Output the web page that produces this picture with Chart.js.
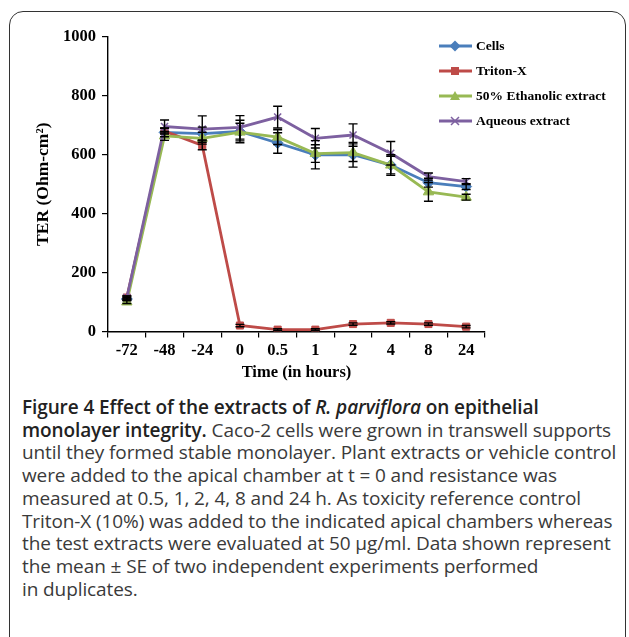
<!DOCTYPE html>
<html>
<head>
<meta charset="utf-8">
<script src="https://cdn.jsdelivr.net/npm/chart.js@4.4.0/dist/chart.umd.min.js"></script>
<style>
  body { margin: 0; background: #fff; width: 629px; height: 637px; overflow: hidden; position: relative; }
  #frame { position: absolute; left: 9px; top: 11px; width: 617px; height: 680px; border: 1.6px solid #333; border-radius: 14px; box-sizing: border-box; }
  #chart { position: absolute; left: 0; top: 0; }
  #legend { position: absolute; left: 439px; top: 33px; font: bold 13.5px "Liberation Serif", "Times New Roman", serif; color: #000; }
  #legend .item { height: 25px; display: flex; align-items: center; white-space: nowrap; }
  #legend svg { margin-right: 4px; }
  #caption { position: absolute; left: 22px; top: 396px; font: 19px "Open Sans", sans-serif; line-height: 22.7px; color: #3a3a3a; white-space: nowrap; letter-spacing: -0.1px; }
  #caption b { font-weight: 600; color: #222; }
</style>
</head>
<body>
<div id="frame"></div>
<canvas id="chart" width="629" height="391"></canvas>
<div id="legend"></div>
<div id="caption">
<b>Figure 4 Effect of the extracts of <i>R. parviflora</i> on epithelial</b><br>
<b>monolayer integrity.</b> Caco-2 cells were grown in transwell supports<br>
until they formed stable monolayer. Plant extracts or vehicle control<br>
were added to the apical chamber at t = 0 and resistance was<br>
measured at 0.5, 1, 2, 4, 8 and 24 h. As toxicity reference control<br>
Triton-X (10%) was added to the indicated apical chambers whereas<br>
the test extracts were evaluated at 50 µg/ml. Data shown represent<br>
the mean ± SE of two independent experiments performed<br>
in duplicates.
</div>
<script>
// time points (hours)
var timeLabels = ['-72', '-48', '-24', '0', '0.5', '1', '2', '4', '8', '24'];
var yTicks = [0, 200, 400, 600, 800, 1000];

// TER values
var cells     = [110, 676, 672, 679, 640, 600, 600, 565, 505, 492];
var tritonX   = [115, 680, 632, 20, 6, 6, 25, 29, 25, 16];
var ethanolic = [100, 664, 656, 677, 660, 604, 607, 565, 474, 456];
var aqueous   = [115, 696, 687, 693, 728, 656, 667, 605, 526, 509];

// standard errors
var cellsErr     = [5, 15, 22, 38, 35, 48, 42, 35, 15, 10];
var tritonErr    = [5, 10, 15, 4, 3, 3, 4, 4, 4, 4];
var ethanolicErr = [5, 15, 20, 30, 25, 30, 30, 30, 32, 10];
var aqueousErr   = [5, 22, 45, 40, 37, 33, 38, 40, 12, 10];

var seriesNames = ['Cells', 'Triton-X', '50% Ethanolic extract', 'Aqueous extract'];
var colors = ['#4a7ebb', '#be4b48', '#98b954', '#7d60a0'];
var markers = ['rectRot', 'rect', 'triangle', 'crossRot'];

var serifBold = { family: '"Liberation Serif", "Times New Roman", serif', weight: 'bold', size: 16.5 };

// draw error bars on top of the lines
var errorBars = {
  id: 'errorBars',
  afterDatasetsDraw: function (chart) {
    var ctx = chart.ctx, y = chart.scales.y;
    ctx.save();
    ctx.strokeStyle = '#000';
    ctx.lineWidth = 1.4;
    chart.data.datasets.forEach(function (ds, i) {
      var meta = chart.getDatasetMeta(i);
      meta.data.forEach(function (pt, j) {
        var e = ds.errors[j];
        if (!e) return;
        var top = y.getPixelForValue(ds.data[j] + e);
        var bot = y.getPixelForValue(ds.data[j] - e);
        ctx.beginPath();
        ctx.moveTo(pt.x, top); ctx.lineTo(pt.x, bot);
        ctx.moveTo(pt.x - 4.5, top); ctx.lineTo(pt.x + 4.5, top);
        ctx.moveTo(pt.x - 4.5, bot); ctx.lineTo(pt.x + 4.5, bot);
        ctx.stroke();
      });
    });
    ctx.restore();
  }
};

function makeSet(i, data, errs, radius) {
  return {
    label: seriesNames[i],
    data: data,
    errors: errs,
    borderColor: colors[i],
    backgroundColor: colors[i],
    pointBackgroundColor: colors[i],
    pointBorderColor: colors[i],
    pointStyle: markers[i],
    pointRadius: radius,
    pointBorderWidth: markers[i] == 'crossRot' ? 1.5 : 1,
    borderWidth: 2.8,
    tension: 0,
    order: 3 - i
  };
}

new Chart(document.getElementById('chart'), {
  type: 'line',
  data: {
    labels: timeLabels,
    datasets: [
      makeSet(0, cells, cellsErr, 5.5),
      makeSet(1, tritonX, tritonErr, 5),
      makeSet(2, ethanolic, ethanolicErr, 6),
      makeSet(3, aqueous, aqueousErr, 5)
    ]
  },
  options: {
    responsive: false,
    animation: false,
    layout: { padding: { left: 29, top: 37, right: 144, bottom: 4 } },
    plugins: { legend: { display: false }, tooltip: { enabled: false } },
    scales: {
      x: {
        offset: true,
        grid: { offset: true, drawOnChartArea: false, tickLength: 6, color: '#000', lineWidth: 1.2 },
        border: { color: '#000', width: 1.4 },
        ticks: { color: '#000', font: serifBold, padding: 3, maxRotation: 0, autoSkip: false },
        title: { display: true, text: 'Time (in hours)', color: '#000', font: serifBold, padding: { top: 0 } }
      },
      y: {
        min: 0, max: 1000,
        afterBuildTicks: function (s) { s.ticks = yTicks.map(function (v) { return { value: v }; }); },
        grid: { drawOnChartArea: false, tickLength: 6, color: '#000', lineWidth: 1.2 },
        border: { color: '#000', width: 1.4 },
        ticks: { color: '#000', font: serifBold, padding: 6, callback: function (v) { return String(v); } },
        title: { display: true, text: 'TER (Ohm-cm²)', color: '#000', font: { family: serifBold.family, weight: 'bold', size: 17.5 }, padding: { bottom: 3 } }
      }
    }
  },
  plugins: [errorBars]
});

// legend built from the series
var legend = document.getElementById('legend');
seriesNames.forEach(function (name, i) {
  var c = colors[i], m = '';
  if (markers[i] == 'rectRot') m = '<polygon points="16,0.5 21.5,6 16,11.5 10.5,6" fill="' + c + '"/>';
  if (markers[i] == 'rect') m = '<rect x="12" y="2" width="8" height="8" fill="' + c + '"/>';
  if (markers[i] == 'triangle') m = '<polygon points="16,1 21,10 11,10" fill="' + c + '"/>';
  if (markers[i] == 'crossRot') m = '<path d="M12 2 L20 10 M20 2 L12 10" stroke="' + c + '" stroke-width="1.5"/>';
  legend.innerHTML += '<div class="item"><svg width="33" height="12"><line x1="0" y1="6" x2="33" y2="6" stroke="' + c +
    '" stroke-width="2.8"/>' + m + '</svg>' + name + '</div>';
});
</script>
</body>
</html>
